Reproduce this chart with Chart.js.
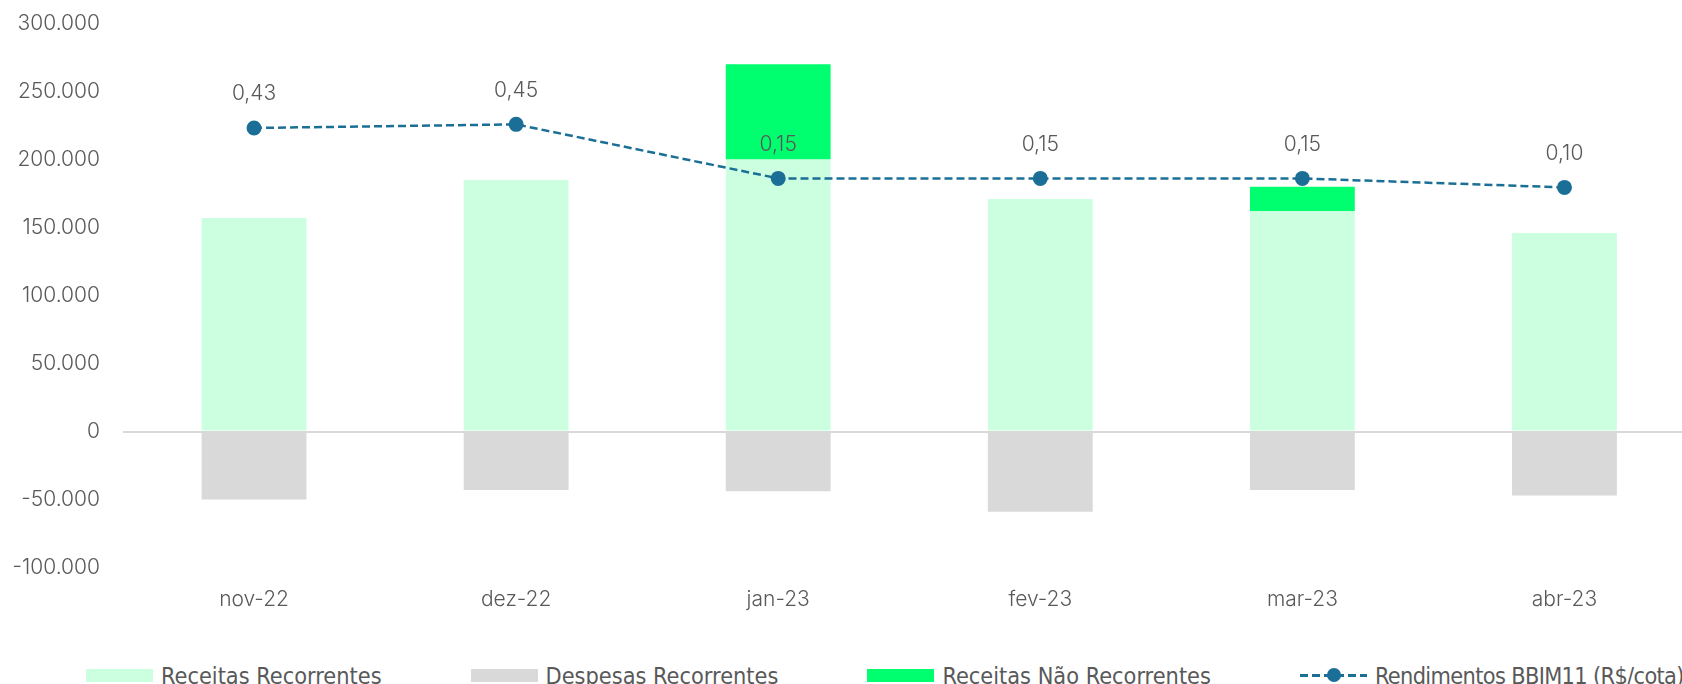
<!DOCTYPE html>
<html lang="pt-BR">
<head>
<meta charset="utf-8">
<title>Resultado BBIM11</title>
<script src="https://cdn.jsdelivr.net/npm/chart.js@4.4.0/dist/chart.umd.min.js"></script>
<style>
  html, body { margin: 0; padding: 0; background: #fff; overflow: hidden; }
  #wrap   { position: relative; width: 1682px; height: 684px; overflow: hidden; }
  #chart  { position: absolute; left: 0; top: 0; }
  #legend { position: absolute; left: 86px; top: 664px; height: 22px; display: flex; align-items: center; gap: 89px;
            font-family: "Liberation Sans Narrow", "DejaVu Sans Condensed", sans-serif; font-stretch: condensed;
            font-size: 23.3px; color: #595959; white-space: nowrap; }
  .item   { display: flex; align-items: center; gap: 8px; }
  .item:last-child span:last-child { letter-spacing: -0.65px; }
  .swatch { width: 67px; height: 13px; }
  .dash   { position: relative; width: 67px; height: 13px;
            background: repeating-linear-gradient(90deg, #1b6f96 0 8px, transparent 8px 12px) center / 100% 3px no-repeat; }
  .dash::after { content: ''; position: absolute; left: 27px; top: -1px; width: 14px; height: 14px; border-radius: 50%; background: #1b6f96; }
</style>
</head>
<body>
<div id="wrap">
  <canvas id="chart" width="1703" height="640"></canvas>
  <div id="legend"></div>
</div>
<script>
/* ─── Dados ─── */
const meses        = ['nov-22', 'dez-22', 'jan-23', 'fev-23', 'mar-23', 'abr-23'];
const receitasRec  = [157000, 185000, 200000, 171000, 162000, 146000];
const despesasRec  = [-50000, -43000, -44000, -59000, -43000, -47000];
const receitasNRec = [0, 0, 70000, 0, 18000, 0];
const rendimentos  = [0.43, 0.45, 0.15, 0.15, 0.15, 0.10];
const yTicks       = [-100000, -50000, 0, 50000, 100000, 150000, 200000, 250000, 300000];

const TXT   = '#595959';
const LINHA = '#1b6f96';
const FONT  = "Inter, 'Open Sans', sans-serif";

function fmtMil(v) {
  const s = Math.abs(v).toString().replace(/\B(?=(\d{3})+(?!\d))/g, '.');
  return (v < 0 ? '-' : '') + s;
}
const fmtDec = v => v.toFixed(2).replace('.', ',');

/* ─── rótulos da linha ─── */
const valueLabels = {
  id: 'valueLabels',
  afterDatasetsDraw(chart) {
    const { ctx } = chart;
    const meta = chart.getDatasetMeta(3);
    ctx.save();
    ctx.font = `300 21px ${FONT}`;
    ctx.fillStyle = TXT;
    ctx.textAlign = 'center';
    ctx.textBaseline = 'middle';
    meta.data.forEach((pt, i) => ctx.fillText(fmtDec(rendimentos[i]), pt.x, pt.y - 34));
    ctx.restore();
  },
};

/* ─── legenda HTML ─── */
const htmlLegend = {
  id: 'htmlLegend',
  afterUpdate(chart) {
    const box = document.getElementById('legend');
    box.innerHTML = '';
    chart.data.datasets.forEach(ds => {
      const item = document.createElement('div');
      item.className = 'item';
      const sw = document.createElement('span');
      if (ds.type === 'line') {
        sw.className = 'dash';
      } else {
        sw.className = 'swatch';
        sw.style.background = ds.backgroundColor;
      }
      const tx = document.createElement('span');
      tx.textContent = ds.label;
      item.appendChild(sw);
      item.appendChild(tx);
      box.appendChild(item);
    });
  },
};

new Chart(document.getElementById('chart'), {
  data: {
    labels: meses,
    datasets: [
      { type: 'bar', label: 'Receitas Recorrentes', data: receitasRec, backgroundColor: '#ccffe0', order: 2 },
      { type: 'bar', label: 'Despesas Recorrentes', data: despesasRec, backgroundColor: '#d9d9d9', order: 2 },
      { type: 'bar', label: 'Receitas Não Recorrentes', data: receitasNRec, backgroundColor: '#00ff6e', order: 2 },
      {
        type: 'line', label: 'Rendimentos BBIM11 (R$/cota)', data: rendimentos, yAxisID: 'y1', order: 0,
        borderColor: LINHA, borderWidth: 2.5, borderDash: [8, 4], tension: 0,
        pointRadius: 7.5, pointBackgroundColor: LINHA, pointBorderColor: LINHA, pointBorderWidth: 0,
      },
    ],
  },
  options: {
    responsive: false,
    animation: false,
    datasets: { bar: { barPercentage: 0.4, categoryPercentage: 1 } },
    layout: { padding: { top: 23.5, left: 0, right: 0, bottom: 0 } },
    plugins: {
      legend: { display: false },
      tooltip: { enabled: false },
    },
    scales: {
      x: {
        stacked: true,
        grid: { display: false },
        border: { display: false },
        ticks: { color: TXT, font: { family: FONT, size: 21, weight: '300' }, padding: 12 },
        afterFit: s => { s.height = 72.5; },
      },
      y: {
        stacked: true,
        min: -100000,
        max: 300000,
        afterBuildTicks: s => { s.ticks = yTicks.map(v => ({ value: v })); },
        grid: {
          drawTicks: true,
          tickLength: 23,
          tickColor: 'rgba(0,0,0,0)',
          lineWidth: 2,
          color: c => (c.tick && c.tick.value === 0 ? '#d9d9d9' : 'rgba(0,0,0,0)'),
        },
        border: { display: false },
        ticks: { color: TXT, font: { family: FONT, size: 21, weight: '300' }, padding: 0, callback: v => fmtMil(v) },
        afterFit: s => { s.width = 123; },
      },
      y1: {
        display: false,
        min: -2.01,
        max: 1.01,
        grid: { display: false },
      },
    },
  },
  plugins: [valueLabels, htmlLegend],
});
</script>
</body>
</html>
